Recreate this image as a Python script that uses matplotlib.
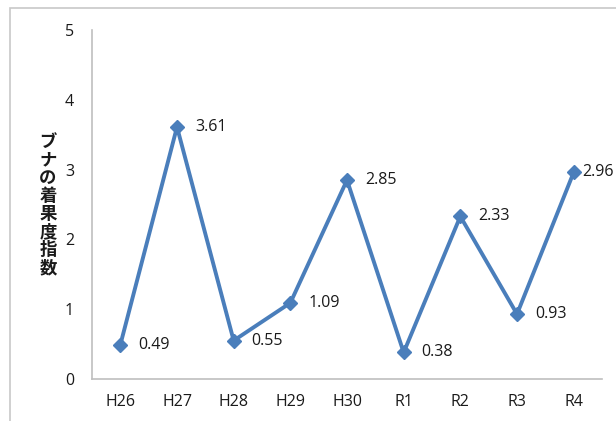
import matplotlib.pyplot as plt
from matplotlib.patches import Rectangle

plt.rcParams['font.family'] = ['Open Sans', 'Noto Sans CJK JP', 'DejaVu Sans']

years = ["H26", "H27", "H28", "H29", "H30", "R1", "R2", "R3", "R4"]
index = [0.49, 3.61, 0.55, 1.09, 2.85, 0.38, 2.33, 0.93, 2.96]
ylabel = "ブナの着果度指数"

W, H = 616, 421
fig = plt.figure(figsize=(W / 100, H / 100), dpi=100)

# outer chart frame (runs off the right and bottom edges)
fig.patches.append(Rectangle((10 / W, -0.1), 1.2, (H - 8) / H + 0.1,
                             transform=fig.transFigure, fill=False,
                             edgecolor="#c8c8c8", linewidth=1.2))

ax = fig.add_axes([92 / W, (H - 379) / H, 510 / W, 349 / H])
x = range(len(years))
ax.plot(x, index, color="#4a7ebb", linewidth=2.8, marker="D", markersize=7,
        markeredgecolor="#4a7ebb", markerfacecolor="#4a7ebb", clip_on=False)

for i, v in enumerate(index):
    # last label is squeezed against the right edge
    dx = 6 if i == len(index) - 1 else 13
    ax.annotate(f"{v:.2f}", (i, v), xytext=(dx, 0), textcoords="offset points",
                va="center", ha="left", fontsize=11.5, color="#1a1a1a")

ax.set_xlim(-0.5, len(years) - 0.5)
ax.set_ylim(0, 5)
ax.set_xticks(list(x))
ax.set_xticklabels(years)
ax.set_yticks(range(6))
ax.tick_params(length=0, labelsize=11.5, colors="#1a1a1a")
ax.tick_params(axis="x", pad=11)
ax.tick_params(axis="y", pad=13)

for side in ("top", "right"):
    ax.spines[side].set_visible(False)
for side in ("left", "bottom"):
    ax.spines[side].set_color("#bfbfbf")
    ax.spines[side].set_linewidth(1.2)

fig.text(48 / W, 1 - 205 / H, "\n".join(ylabel), family=["Noto Sans CJK JP"],
         fontsize=12.5, fontweight="bold", ha="center", va="center",
         linespacing=1.0, color="#1a1a1a")

fig.savefig("out.png", dpi=100)
